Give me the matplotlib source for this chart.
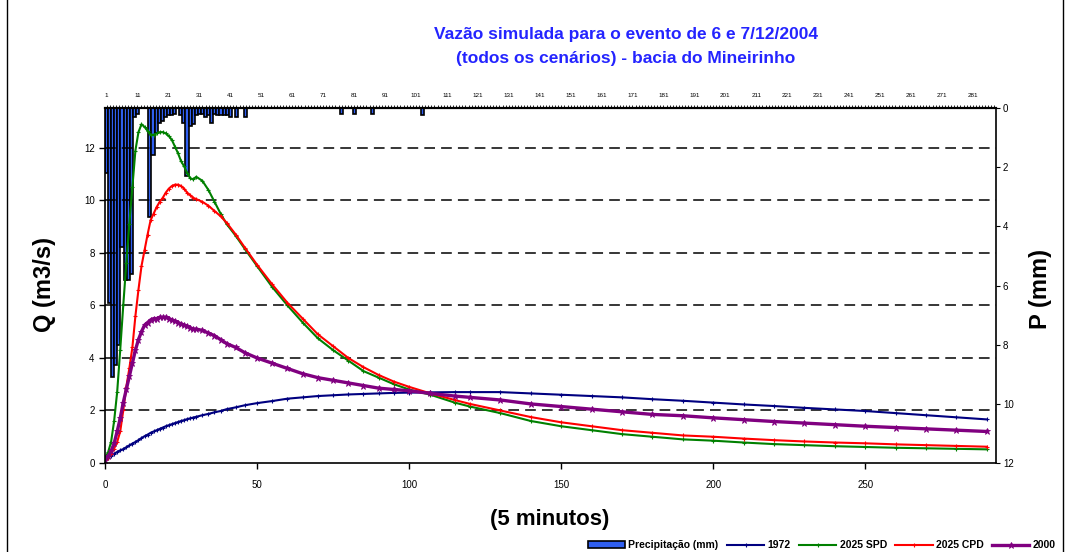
import matplotlib
matplotlib.use('Agg')
import matplotlib.pyplot as plt
from matplotlib.lines import Line2D

plt.rcParams['font.family'] = ['Liberation Sans', 'DejaVu Sans']

# precipitation per 5-min interval (mm), interval index 1..288
precip_idx = [1, 2, 3, 4, 5, 6, 7, 8, 9, 10, 11, 15, 16, 17, 18, 19, 20, 21, 22, 23,
              25, 26, 27, 28, 29, 30, 31, 32, 33, 34, 35, 36, 37, 38, 39, 40, 41,
              43, 46, 77, 81, 87, 103]
precip_mm = [2.2, 6.6, 9.1, 8.7, 8.0, 4.7, 5.8, 5.8, 5.6, 0.3, 0.2, 3.7, 1.6, 0.85, 0.5, 0.45,
             0.3, 0.25, 0.25, 0.2, 0.25, 0.5, 2.3, 0.6, 0.55, 0.25, 0.2, 0.2, 0.3, 0.25,
             0.5, 0.2, 0.25, 0.25, 0.25, 0.25, 0.3, 0.3, 0.3, 0.2, 0.2, 0.2, 0.25]
n_intervals = 288

# simulated discharge (m3/s) at time steps of 5 minutes
t = [0, 1, 2, 3, 4, 5, 6, 7, 8, 9, 10, 11, 12, 13, 14, 15, 16, 17, 18, 19, 20,
     21, 22, 23, 24, 25, 26, 27, 28, 29, 30, 32, 34, 36, 38, 40, 43, 46, 50, 55,
     60, 65, 70, 75, 80, 85, 90, 95, 100, 107, 115, 120, 130, 140, 150, 160, 170,
     180, 190, 200, 210, 220, 230, 240, 250, 260, 270, 280, 290]

q_1972 = [0.1, 0.2, 0.28, 0.35, 0.42, 0.48, 0.53, 0.6, 0.67, 0.74, 0.8, 0.87, 0.95,
          1.02, 1.08, 1.15, 1.2, 1.25, 1.3, 1.35, 1.4, 1.44, 1.48, 1.52, 1.56, 1.6,
          1.63, 1.67, 1.7, 1.73, 1.76, 1.82, 1.87, 1.93, 1.98, 2.05, 2.12, 2.2, 2.28,
          2.36, 2.45, 2.5, 2.55, 2.58, 2.61, 2.63, 2.65, 2.67, 2.68, 2.69, 2.7, 2.7,
          2.7, 2.65, 2.6, 2.55, 2.5, 2.43, 2.37, 2.3, 2.23, 2.17, 2.1, 2.04, 1.98,
          1.9, 1.82, 1.74, 1.66]

q_2025_spd = [0.2, 0.4, 0.8, 1.6, 2.7, 4.3, 6.0, 7.6, 9.1, 10.5, 11.9, 12.6, 12.9,
              12.8, 12.65, 12.5, 12.5, 12.55, 12.6, 12.6, 12.55, 12.45, 12.3, 12.05,
              11.8, 11.5, 11.3, 11.05, 10.85, 10.8, 10.9, 10.75, 10.4, 9.95, 9.5, 9.1,
              8.65, 8.15, 7.5, 6.7, 6.0, 5.35, 4.75, 4.3, 3.9, 3.5, 3.25, 3.0, 2.8,
              2.6, 2.3, 2.15, 1.9, 1.6, 1.4, 1.25, 1.1, 1.0, 0.9, 0.85, 0.78, 0.72,
              0.68, 0.64, 0.61, 0.58, 0.56, 0.54, 0.52]

q_2025_cpd = [0.1, 0.2, 0.35, 0.55, 0.8, 1.2, 2.0, 2.9, 3.6, 4.4, 5.6, 6.6, 7.5, 8.1,
              8.7, 9.25, 9.5, 9.75, 9.95, 10.1, 10.3, 10.45, 10.55, 10.6, 10.6, 10.55,
              10.45, 10.3, 10.2, 10.1, 10.05, 9.95, 9.8, 9.6, 9.4, 9.15, 8.7, 8.2,
              7.55, 6.8, 6.1, 5.5, 4.9, 4.45, 4.0, 3.65, 3.35, 3.1, 2.9, 2.65, 2.4,
              2.25, 2.0, 1.75, 1.55, 1.4, 1.25, 1.15, 1.05, 1.0, 0.93, 0.87, 0.82,
              0.78, 0.75, 0.71, 0.68, 0.65, 0.62]

q_2000 = [0.1, 0.25, 0.45, 0.75, 1.2, 1.7, 2.3, 2.8, 3.3, 3.8, 4.3, 4.7, 5.0, 5.25,
          5.35, 5.45, 5.5, 5.5, 5.55, 5.55, 5.55, 5.5, 5.45, 5.4, 5.35, 5.3, 5.25,
          5.2, 5.15, 5.1, 5.1, 5.05, 4.95, 4.85, 4.7, 4.55, 4.4, 4.2, 4.0, 3.8, 3.6,
          3.4, 3.25, 3.15, 3.05, 2.95, 2.85, 2.8, 2.75, 2.65, 2.55, 2.5, 2.4, 2.25,
          2.15, 2.05, 1.95, 1.85, 1.8, 1.72, 1.65, 1.58, 1.52, 1.46, 1.4, 1.35, 1.3,
          1.25, 1.2]

fig = plt.figure(figsize=(10.68, 5.52), dpi=100)
rect = [105 / 1068, 1 - 463 / 552, 891 / 1068, 355 / 552]

# precipitation axis (right, inverted, category ticks on top)
axp = fig.add_axes(rect)
bars = axp.bar([k - 0.5 for k in precip_idx], precip_mm, width=1.0,
               color='#2f5ff0', edgecolor='black', linewidth=1.2,
               label='Precipitação (mm)')
axp.set_xlim(0, n_intervals)
axp.set_ylim(12, 0)
axp.yaxis.tick_right()
axp.set_yticks(range(0, 13, 2))
axp.tick_params(axis='y', labelsize=7, length=3, direction='out', pad=2)
axp.xaxis.tick_top()
axp.set_xticks([k - 0.5 for k in range(1, n_intervals + 1, 10)])
axp.set_xticklabels([str(k) for k in range(1, n_intervals + 1, 10)])
axp.set_xticks([k - 0.5 for k in range(1, n_intervals + 1)], minor=True)
axp.tick_params(axis='x', which='both', labelsize=4.5, length=2, width=0.6,
                direction='out', pad=5, colors='black')
for s in ['left', 'bottom']:
    axp.spines[s].set_visible(False)
axp.spines['top'].set_linewidth(1.6)
axp.spines['right'].set_linewidth(1.2)

# discharge axis (left)
ax = fig.add_axes(rect)
ax.set_zorder(axp.get_zorder() + 1)
ax.patch.set_visible(False)
for y in range(2, 13, 2):
    ax.axhline(y, color='black', lw=1.1, ls=(0, (7, 4)), zorder=1)
l1, = ax.plot(t, q_1972, color='#000080', lw=1.5, marker='+', ms=3, mew=0.8, label='1972')
l2, = ax.plot(t, q_2025_spd, color='#008000', lw=1.5, marker='+', ms=3.5, mew=0.8, label='2025 SPD')
l3, = ax.plot(t, q_2025_cpd, color='#ff0000', lw=1.5, marker='+', ms=3.5, mew=0.8, label='2025 CPD')
l4, = ax.plot(t, q_2000, color='#800080', lw=2.4, marker='*', ms=5, mew=0.6, label='2000')
ax.set_xlim(0, 293)
ax.set_ylim(0, 13.52)
ax.set_xticks(range(0, 251, 50))
ax.set_yticks(range(0, 13, 2))
ax.tick_params(axis='both', labelsize=7, length=4, direction='out', width=1.0)
ax.tick_params(axis='x', pad=8)
for s in ['top', 'right']:
    ax.spines[s].set_visible(False)
ax.spines['left'].set_linewidth(1.2)
ax.spines['bottom'].set_linewidth(1.2)

fig.text(45 / 1068, 1 - 285 / 552, 'Q (m3/s)', rotation=90, ha='center', va='center',
         fontsize=17, fontweight='bold')
fig.text(1040 / 1068, 1 - 289 / 552, 'P (mm)', rotation=90, ha='center', va='center',
         fontsize=17, fontweight='bold')
fig.text(550 / 1068, 1 - 519 / 552, '(5 minutos)', ha='center', va='center',
         fontsize=16, fontweight='bold')
fig.text(626 / 1068, 1 - 35 / 552, 'Vazão simulada para o evento de 6 e 7/12/2004',
         ha='center', va='center', fontsize=12.5, fontweight='bold', color='#2424ff')
fig.text(626 / 1068, 1 - 58 / 552, '(todos os cenários) - bacia do Mineirinho',
         ha='center', va='center', fontsize=12.5, fontweight='bold', color='#2424ff')

fig.legend(handles=[bars, l1, l2, l3, l4], loc='lower right',
           bbox_to_anchor=(0.997, -0.014), ncol=5, frameon=False,
           prop={'size': 7.5, 'weight': 'bold'}, handlelength=3.6, handleheight=0.6,
           columnspacing=0.8, handletextpad=0.3)

# outer frame of the chart
fig.add_artist(Line2D([7 / 1068, 7 / 1068], [0, 1], color='black', lw=1.0))
fig.add_artist(Line2D([1063 / 1068, 1063 / 1068], [0, 1], color='black', lw=1.0))

fig.savefig('out.png', dpi=100)
